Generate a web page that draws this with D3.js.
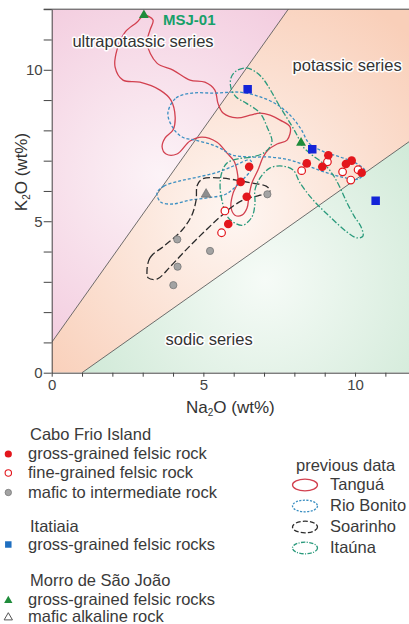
<!DOCTYPE html>
<html>
<head>
<meta charset="utf-8">
<script src="https://cdn.jsdelivr.net/npm/d3@7"></script>
<style>
body { margin: 0; background: #fff; }
svg { display: block; font-family: "Liberation Sans", Arial, sans-serif; }
</style>
</head>
<body>
<svg width="409" height="624"></svg>
<script>
// axis ticks (wt%)
var xTicks = d3.range(0, 13);
var yTicks = d3.range(0, 13);
var labelTicks = [0, 5, 10];

// series boundaries [Na2O, K2O]
var ultraLine = [[0, 1], [7.8, 12]];
var sodicLine = [[1, 0], [12, 7.78]];

// Cabo Frio Island
var coarseFelsic = [[6.51, 6.80], [6.23, 6.30], [6.43, 5.81], [5.82, 4.91], [8.41, 6.91],
  [9.12, 7.18], [8.92, 6.80], [9.70, 6.89], [9.89, 7.00], [10.22, 6.60]];
var fineFelsic = [[8.24, 6.67], [9.09, 6.96], [9.59, 6.63], [9.86, 6.36], [10.10, 6.70],
  [5.71, 5.34], [5.60, 4.62]];
var maficRock = [[4.14, 4.40], [5.22, 4.02], [4.15, 3.50], [4.01, 2.89], [7.11, 5.89]];
// Itatiaia
var itatiaiaRocks = [[6.46, 9.36], [8.59, 7.38], [10.68, 5.68]];
// Morro de Sao Joao
var msjFelsic = [[3.04, 11.80], [8.22, 7.59]];
var msjMafic = [[5.09, 5.89]];

// previous data fields
var tangua = [[3.04, 11.80], [2.81, 11.57], [2.42, 11.24], [2.15, 10.65], [2.09, 10.09], [2.35, 9.66],
  [2.91, 9.59], [3.57, 9.33], [3.93, 9.00], [4.07, 8.44], [4.00, 8.01], [3.74, 7.75], [3.64, 7.45],
  [3.77, 7.22], [4.13, 7.22], [4.56, 7.65], [4.96, 7.78], [5.45, 7.61], [5.78, 7.25], [6.01, 6.99],
  [6.11, 6.66], [6.14, 6.29], [5.98, 5.93], [5.91, 5.47], [6.04, 5.20], [6.27, 5.20], [6.44, 5.44],
  [6.50, 5.80], [6.60, 6.26], [6.80, 6.69], [6.97, 7.12], [7.13, 7.35], [7.43, 7.55], [7.76, 7.68],
  [7.86, 8.11], [7.53, 8.34], [7.20, 8.50], [6.87, 8.57], [6.54, 8.50], [6.11, 8.41], [5.65, 8.57],
  [5.48, 8.90], [5.38, 9.33], [5.05, 9.59], [4.56, 9.66], [4.00, 9.99], [3.47, 10.22], [3.14, 10.88],
  [3.24, 11.31], [3.34, 11.64]];
var rioBonitoA = [[3.83, 8.57], [4.10, 9.07], [4.63, 9.23], [5.38, 9.23], [6.21, 9.26], [6.80, 9.13],
  [7.40, 8.87], [7.89, 8.47], [8.22, 8.04], [8.48, 7.58], [8.91, 7.32], [9.51, 7.12], [10.03, 6.92],
  [10.33, 6.66], [10.10, 6.39], [9.57, 6.46], [9.01, 6.62], [8.45, 6.82], [7.86, 7.02], [7.20, 7.12],
  [6.54, 7.12], [5.94, 7.19], [5.61, 7.38], [5.22, 7.55], [4.72, 7.68], [4.30, 7.78], [4.00, 8.08]];
var rioBonitoB = [[3.47, 5.93], [3.70, 6.16], [4.23, 6.33], [4.82, 6.46], [5.48, 6.62], [6.08, 6.86],
  [6.54, 7.02], [6.60, 6.76], [6.21, 6.29], [5.75, 5.90], [5.12, 5.77], [4.56, 5.70], [4.00, 5.57],
  [3.60, 5.63]];
var soarinho = [[3.14, 3.32], [3.24, 3.79], [3.74, 4.21], [4.30, 4.71], [4.62, 5.20], [4.76, 5.70],
  [4.80, 6.19], [4.98, 6.40], [5.55, 6.43], [6.08, 6.36], [6.60, 6.26], [7.07, 6.16], [7.20, 6.00],
  [6.87, 5.86], [6.37, 5.73], [5.94, 5.47], [5.55, 5.14], [5.15, 4.77], [4.72, 4.35], [4.30, 3.92],
  [3.90, 3.49], [3.47, 3.09], [3.18, 3.13]];
var itauna = [[6.08, 9.96], [6.41, 10.06], [6.74, 9.92], [7.00, 9.66], [7.23, 9.30], [7.53, 8.77],
  [7.86, 8.24], [8.09, 7.84], [8.29, 7.45], [8.58, 7.19], [9.01, 6.86], [9.28, 6.52], [9.51, 6.10],
  [9.74, 5.60], [9.97, 5.17], [10.20, 4.81], [10.26, 4.51], [10.07, 4.45], [9.74, 4.64], [9.18, 5.14],
  [8.62, 5.70], [8.19, 6.26], [7.96, 6.69], [7.63, 6.82], [7.20, 6.76], [6.87, 6.43], [6.70, 6.03],
  [6.70, 5.57], [6.60, 5.14], [6.31, 4.87], [6.04, 4.94], [5.78, 5.17], [5.61, 5.70], [5.55, 6.19],
  [5.61, 6.62], [5.78, 6.92], [6.14, 7.06], [6.60, 7.12], [7.03, 7.28], [7.26, 7.61], [7.10, 8.11],
  [6.87, 8.57], [6.41, 8.90], [6.08, 9.10], [5.91, 9.40], [5.91, 9.73]];

var fields = [
  {name: "Tanguá", rings: [tangua], color: "#d2404f", dash: null},
  {name: "Rio Bonito", rings: [rioBonitoA, rioBonitoB], color: "#3b8fc2", dash: "3,2"},
  {name: "Soarinho", rings: [soarinho], color: "#2b2b2b", dash: "7,3"},
  {name: "Itaúna", rings: [itauna], color: "#2a9a7c", dash: "6,2,1.5,2"}
];

var svg = d3.select("svg"),
    width = +svg.attr("width");

var x = d3.scaleLinear().domain([0, 12]).range([51.7, 415.7]);
var y = d3.scaleLinear().domain([0, 12]).range([372.7, 9.2]);

var defs = svg.append("defs");
defs.append("clipPath").attr("id", "plot")
  .append("rect")
    .attr("x", x(0)).attr("y", y(12))
    .attr("width", width - x(0)).attr("height", y(0) - y(12));

function radial(id, cx, cy, r, inner, outer) {
  var g = defs.append("radialGradient").attr("id", id)
      .attr("gradientUnits", "userSpaceOnUse")
      .attr("cx", cx).attr("cy", cy).attr("r", r);
  g.append("stop").attr("offset", 0).attr("stop-color", inner);
  g.append("stop").attr("offset", 1).attr("stop-color", outer);
}
radial("gUltra", 160, 175, 230, "#fcf3f7", "#f2c8dc");
radial("gPot", 235, 215, 250, "#fef6f2", "#f9cfb9");
radial("gSod", 265, 280, 230, "#f6fbf7", "#cbe7d3");

var line = d3.line().x(function(d) { return x(d[0]); }).y(function(d) { return y(d[1]); });
var ring = d3.line().x(function(d) { return x(d[0]); }).y(function(d) { return y(d[1]); })
    .curve(d3.curveCatmullRomClosed.alpha(0.5));

var plot = svg.append("g").attr("clip-path", "url(#plot)");

// series fields
var ultraArea = [ultraLine[0], ultraLine[1], [0, 12]];
var potassicArea = [[0, 0], sodicLine[0], sodicLine[1], [12, 12], ultraLine[1], ultraLine[0]];
var sodicArea = [sodicLine[0], [12, 0], sodicLine[1]];

plot.append("path").attr("d", line(ultraArea) + "Z").attr("fill", "url(#gUltra)");
plot.append("path").attr("d", line(potassicArea) + "Z").attr("fill", "url(#gPot)");
plot.append("path").attr("d", line(sodicArea) + "Z").attr("fill", "url(#gSod)");

plot.selectAll(".bound")
  .data([ultraLine, sodicLine])
  .enter().append("path")
    .attr("d", line)
    .attr("fill", "none")
    .attr("stroke", "#4a4a4a")
    .attr("stroke-width", 0.8);

// previous data outlines
fields.forEach(function(f) {
  plot.selectAll(null)
    .data(f.rings)
    .enter().append("path")
      .attr("d", ring)
      .attr("fill", "none")
      .attr("stroke", f.color)
      .attr("stroke-width", 1.3)
      .attr("stroke-dasharray", f.dash);
});

// series labels
var halo = function(sel) {
  sel.attr("paint-order", "stroke").attr("stroke", "#fff").attr("stroke-width", 3)
     .attr("stroke-linejoin", "round");
};
var seriesLabels = [
  {t: "ultrapotassic series", p: [3.01, 10.75]},
  {t: "potassic series", p: [9.74, 9.96]},
  {t: "sodic series", p: [5.19, 0.92]}
];
plot.selectAll(".slab")
  .data(seriesLabels)
  .enter().append("text")
    .attr("x", function(d) { return x(d.p[0]); })
    .attr("y", function(d) { return y(d.p[1]); })
    .attr("text-anchor", "middle")
    .attr("font-size", 16.5)
    .attr("fill", "#333")
    .text(function(d) { return d.t; })
    .call(halo);

// samples
var tri = d3.symbol().type(d3.symbolTriangle).size(42);
var sq = d3.symbol().type(d3.symbolSquare).size(72);
function tr(d) { return "translate(" + x(d[0]) + "," + y(d[1]) + ")"; }

plot.selectAll(".maf").data(maficRock).enter().append("circle")
  .attr("cx", function(d) { return x(d[0]); }).attr("cy", function(d) { return y(d[1]); })
  .attr("r", 3.6).attr("fill", "#a3a3a3").attr("stroke", "#777").attr("stroke-width", 0.8);
plot.selectAll(".mtri").data(msjMafic).enter().append("path")
  .attr("d", tri).attr("transform", tr)
  .attr("fill", "#8e8e8e").attr("stroke", "#666").attr("stroke-width", 0.6);
plot.selectAll(".fine").data(fineFelsic).enter().append("circle")
  .attr("cx", function(d) { return x(d[0]); }).attr("cy", function(d) { return y(d[1]); })
  .attr("r", 3.8).attr("fill", "#fff").attr("stroke", "#e3161c").attr("stroke-width", 1.2);
plot.selectAll(".coarse").data(coarseFelsic).enter().append("circle")
  .attr("cx", function(d) { return x(d[0]); }).attr("cy", function(d) { return y(d[1]); })
  .attr("r", 4.3).attr("fill", "#e3161c");
plot.selectAll(".ita").data(itatiaiaRocks).enter().append("path")
  .attr("d", sq).attr("transform", tr).attr("fill", "#1424d8");
plot.selectAll(".msj").data(msjFelsic).enter().append("path")
  .attr("d", tri).attr("transform", tr).attr("fill", "#1f8c3b");

plot.append("text")
  .attr("x", x(3.67)).attr("y", y(11.47))
  .attr("font-size", 15).attr("font-weight", "bold").attr("fill", "#18a06a")
  .text("MSJ-01");

// frame + axes
svg.append("line")
  .attr("x1", x(0) - 8).attr("x2", width)
  .attr("y1", y(12)).attr("y2", y(12))
  .attr("stroke", "#444").attr("stroke-width", 1);

var xAxis = svg.append("g")
    .attr("transform", "translate(0," + y(0) + ")")
    .style("color", "#444")
    .call(d3.axisBottom(x).tickValues(xTicks).tickSize(4).tickPadding(3).tickSizeOuter(0)
      .tickFormat(function(d) { return labelTicks.indexOf(d) >= 0 ? d : ""; }));
var yAxis = svg.append("g")
    .attr("transform", "translate(" + x(0) + ",0)")
    .style("color", "#444")
    .call(d3.axisLeft(y).tickValues(yTicks).tickSize(8).tickPadding(1).tickSizeOuter(0)
      .tickFormat(function(d) { return labelTicks.indexOf(d) >= 0 ? d : ""; }));
svg.selectAll(".tick text")
  .attr("font-size", 15).attr("font-family", "Liberation Sans, Arial, sans-serif").attr("fill", "#444");

var xt = svg.append("text")
    .attr("x", (x(0) + width) / 2).attr("y", 413)
    .attr("text-anchor", "middle").attr("font-size", 17).attr("fill", "#333");
xt.append("tspan").text("Na");
xt.append("tspan").attr("font-size", 10).attr("dy", 3).text("2");
xt.append("tspan").attr("dy", -3).text("O (wt%)");

var yt = svg.append("text")
    .attr("transform", "translate(27,172) rotate(-90)")
    .attr("text-anchor", "middle").attr("font-size", 17).attr("fill", "#333");
yt.append("tspan").text("K");
yt.append("tspan").attr("font-size", 10).attr("dy", 3).text("2");
yt.append("tspan").attr("dy", -3).text("O (wt%)");

// legend (samples)
var legendRows = [
  {t: "Cabo Frio Island", y: 440},
  {t: "gross-grained felsic rock", y: 459, s: "dot"},
  {t: "fine-grained felsic rock", y: 478, s: "ring"},
  {t: "mafic to intermediate rock", y: 498, s: "gray"},
  {t: "Itatiaia", y: 532},
  {t: "gross-grained felsic rocks", y: 550, s: "square"},
  {t: "Morro de São João", y: 586},
  {t: "gross-grained felsic rocks", y: 605, s: "gtri"},
  {t: "mafic alkaline rock", y: 622, s: "otri"}
];
var leg = svg.append("g").attr("font-size", 16.5).attr("fill", "#3a3a3a");
var rows = leg.selectAll("g").data(legendRows).enter().append("g")
    .attr("transform", function(d) { return "translate(0," + d.y + ")"; });
rows.append("text").attr("x", function(d) { return d.s ? 28 : 30; }).text(function(d) { return d.t; });
rows.filter(function(d) { return d.s === "dot"; }).append("circle")
  .attr("cx", 8.3).attr("cy", -5).attr("r", 3.6).attr("fill", "#e3161c");
rows.filter(function(d) { return d.s === "ring"; }).append("circle")
  .attr("cx", 8.3).attr("cy", -5).attr("r", 3.2).attr("fill", "#fff")
  .attr("stroke", "#e3161c").attr("stroke-width", 1.1);
rows.filter(function(d) { return d.s === "gray"; }).append("circle")
  .attr("cx", 8.3).attr("cy", -5.5).attr("r", 3.2).attr("fill", "#a3a3a3")
  .attr("stroke", "#777").attr("stroke-width", 0.8);
rows.filter(function(d) { return d.s === "square"; }).append("path")
  .attr("d", d3.symbol().type(d3.symbolSquare).size(42))
  .attr("transform", "translate(8.3,-5.5)").attr("fill", "#1f6fc0");
rows.filter(function(d) { return d.s === "gtri"; }).append("path")
  .attr("d", d3.symbol().type(d3.symbolTriangle).size(30))
  .attr("transform", "translate(8.3,-4.5)").attr("fill", "#1f8c3b");
rows.filter(function(d) { return d.s === "otri"; }).append("path")
  .attr("d", d3.symbol().type(d3.symbolTriangle).size(30))
  .attr("transform", "translate(8.3,-4.5)").attr("fill", "#fff")
  .attr("stroke", "#555").attr("stroke-width", 1);

// legend (previous data)
var prev = svg.append("g").attr("font-size", 16.5).attr("fill", "#3a3a3a");
prev.append("text").attr("x", 296).attr("y", 471).text("previous data");
var prow = prev.selectAll(".prow").data(fields).enter().append("g")
    .attr("transform", function(d, i) { return "translate(0," + (490 + i * 21) + ")"; });
prow.append("ellipse")
  .attr("cx", 305).attr("cy", -5).attr("rx", 12.5).attr("ry", 5.8)
  .attr("fill", "none")
  .attr("stroke", function(d) { return d.color; })
  .attr("stroke-width", 1.3)
  .attr("stroke-dasharray", function(d) { return d.dash ? d.dash.split(",").map(function(v) { return v * 0.7; }).join(",") : null; });
prow.append("text").attr("x", 330).text(function(d) { return d.name; });
</script>
</body>
</html>
